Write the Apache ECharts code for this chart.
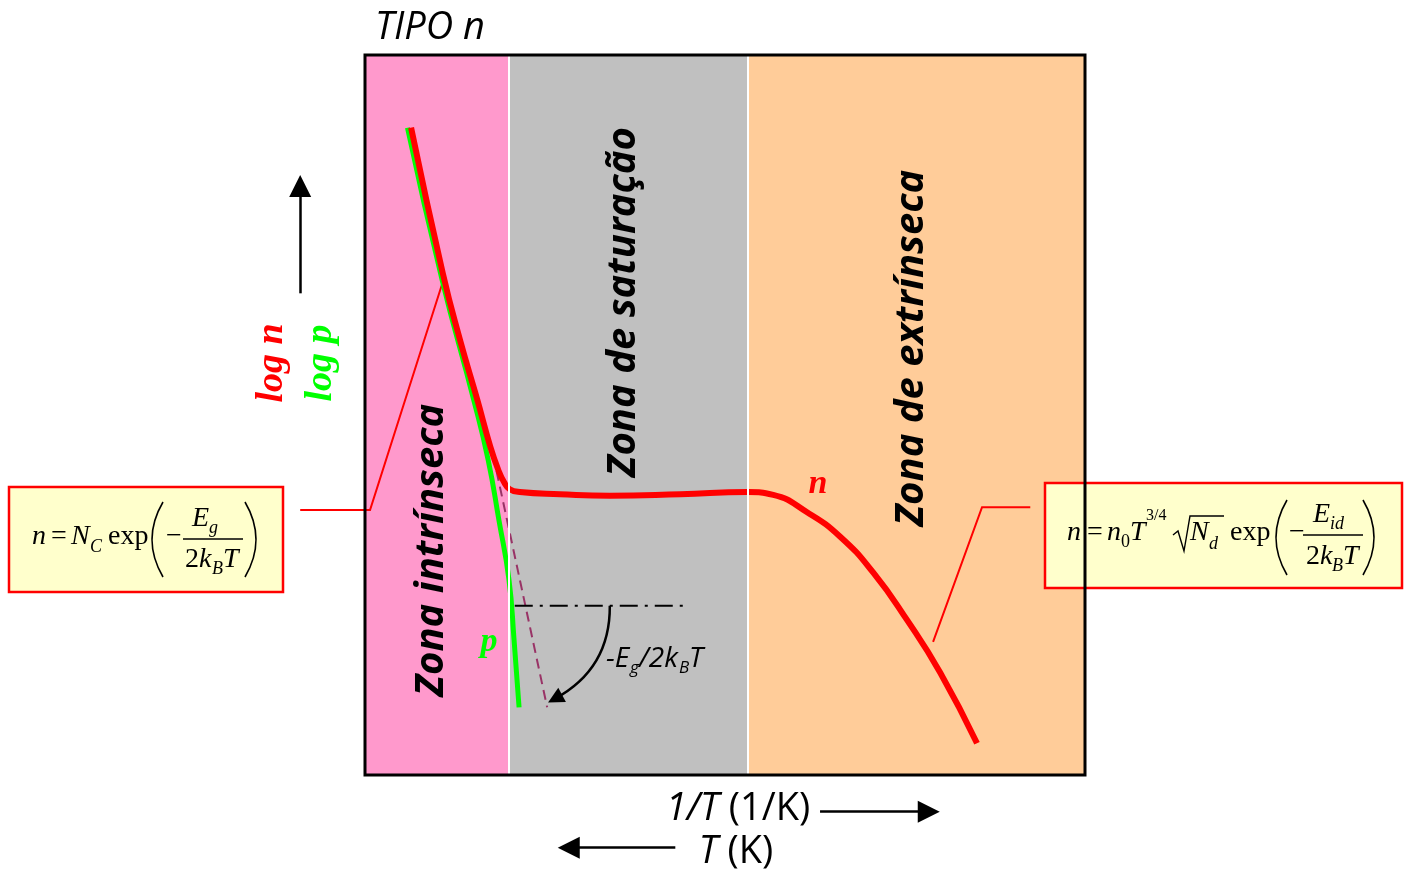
<!DOCTYPE html>
<html>
<head>
<meta charset="utf-8">
<script src="https://cdn.jsdelivr.net/npm/echarts@6/dist/echarts.min.js"></script>
<style>
  html, body { margin: 0; padding: 0; background: #fff; }
  #main { width: 1407px; height: 872px; }
</style>
</head>
<body>
<div id="main"></div>
<script>
// x = 1/T (arbitrary units), y = log n (arbitrary units)
var zoneEdges = [0, 1.99, 5.32, 10];
var zoneColors = ['#FF99CC', '#C0C0C0', '#FFCC99'];

var curveN = [
  [0.64, 8.99], [1.08, 6.97], [1.32, 6.04], [1.56, 5.21], [1.74, 4.56],
  [1.85, 4.24], [1.93, 4.07], [2.01, 3.97], [2.15, 3.93], [2.71, 3.90],
  [3.40, 3.88], [4.38, 3.90], [5.32, 3.93], [5.67, 3.89], [6.14, 3.65],
  [6.60, 3.31], [7.06, 2.81], [7.53, 2.15], [7.99, 1.42], [8.50, 0.44]
];
var curveP = [
  [0.59, 8.99], [1.07, 6.88], [1.51, 5.21], [1.71, 4.38], [1.86, 3.54],
  [2.00, 2.71], [2.07, 1.88], [2.14, 0.94]
];
var slopeLine = [[1.78, 4.44], [2.53, 0.94]];
var levelLine = [[2.08, 2.35], [4.44, 2.35]];
var slopeArc = [[3.40, 2.35], [2.64, 1.06]];

var leaderLeft = [[-0.90, 3.68], [0.07, 3.68], [1.11, 6.94]];
var leaderRight = [[9.24, 3.72], [8.57, 3.72], [7.89, 1.85]];

var arrowY = [[-0.90, 6.69], [-0.90, 8.18]];
var arrowInvT = [[6.32, -0.51], [7.83, -0.51]];
var arrowT = [[4.31, -1.01], [2.83, -1.01]];

var SERIF = 'Liberation Serif';
var SANS = 'Open Sans';

function t(x, base, s, fs, o) {
  o = o || {};
  return {
    type: 'text', z: 100,
    style: {
      text: s, x: x, y: base - 0.32 * fs,
      fontSize: fs, fontFamily: o.family || SERIF,
      fontStyle: o.italic ? 'italic' : 'normal',
      fontWeight: o.bold ? 'bold' : 'normal',
      fill: o.color || '#000',
      align: o.align || 'left', verticalAlign: 'middle'
    }
  };
}
function rot(x, y, s, fs, o) {
  return {
    type: 'text', z: 100, x: x, y: y, rotation: Math.PI / 2,
    style: {
      text: s, fontSize: fs, fontFamily: o.family || SANS,
      fontStyle: 'italic', fontWeight: 'bold', fill: o.color || '#000',
      align: 'center', verticalAlign: 'middle'
    }
  };
}
function paren(x, y1, y2, dx) {
  return {
    type: 'bezierCurve', z: 100,
    shape: { x1: x, y1: y1, x2: x, y2: y2, cpx1: x + dx, cpy1: (y1 + y2) / 2 },
    style: { stroke: '#000', lineWidth: 1.6, fill: 'none' }
  };
}
function seg(x1, y1, x2, y2) {
  return {
    type: 'line', z: 100, shape: { x1: x1, y1: y1, x2: x2, y2: y2 },
    style: { stroke: '#000', lineWidth: 1.3 }
  };
}
function box(x, y, w, h) {
  return {
    type: 'rect', z: 90, shape: { x: x, y: y, width: w, height: h },
    style: { fill: '#FFFFCC', stroke: '#FF0000', lineWidth: 2.5 }
  };
}

var it = { italic: true };
var F = 28, S = 18;
var graphics = [
  // frame
  { type: 'rect', z: 95, shape: { x: 365, y: 55, width: 720, height: 720 },
    style: { fill: 'none', stroke: '#000', lineWidth: 3 } },
  t(375, 40, 'TIPO n', 38, { family: SANS, italic: true }),
  rot(272, 363, 'log n', 38, { family: SERIF, color: '#FF0000' }),
  rot(321, 363, 'log p', 38, { family: SERIF, color: '#00FF00' }),
  rot(432, 550, 'Zona intrínseca', 40, {}),
  rot(624, 302, 'Zona de saturação', 40, {}),
  rot(912, 348, 'Zona de extrínseca', 40, {}),
  t(818, 495, 'n', 34, { italic: true, bold: true, color: '#FF0000', align: 'center' }),
  t(489, 653, 'p', 34, { italic: true, bold: true, color: '#00FF00', align: 'center' }),
  // -Eg/2kBT
  t(606, 668, '-E', 28, { family: SANS, italic: true }),
  t(630, 674, 'g', 17, { family: SANS, italic: true }),
  t(639, 668, '/2k', 28, { family: SANS, italic: true }),
  t(679, 674, 'B', 17, { family: SANS, italic: true }),
  t(689, 668, 'T', 28, { family: SANS, italic: true }),
  // axis captions
  { type: 'text', z: 100, style: {
      text: '{i|1/T} (1/K)', x: 738, y: 809, fontSize: 38, fontFamily: SANS,
      fill: '#000', align: 'center', verticalAlign: 'middle',
      rich: { i: { fontStyle: 'italic', fontSize: 38, fontFamily: SANS } } } },
  { type: 'text', z: 100, style: {
      text: '{i|T} (K)', x: 736, y: 852, fontSize: 38, fontFamily: SANS,
      fill: '#000', align: 'center', verticalAlign: 'middle',
      rich: { i: { fontStyle: 'italic', fontSize: 38, fontFamily: SANS } } } },

  // left formula box
  box(9, 487, 274, 105),
  t(32, 546, 'n', F, it),
  t(51, 546, '=', F),
  t(71, 546, 'N', F, it),
  t(90, 553, 'C', S, it),
  t(108, 546, 'exp', F),
  paren(163, 502, 577, -22),
  t(166, 546, '\u2212', F),
  seg(183, 539, 243, 539),
  t(192, 528, 'E', F, it),
  t(209, 534, 'g', S, it),
  t(185, 569, '2', F),
  t(199, 569, 'k', F, it),
  t(212, 575, 'B', S, it),
  t(223, 569, 'T', F, it),
  paren(245, 502, 577, 22),

  // right formula box
  box(1045, 483, 357, 105),
  t(1067, 542, 'n', F, it),
  t(1087, 542, '=', F),
  t(1107, 542, 'n', F, it),
  t(1121, 548, '0', S),
  t(1130, 542, 'T', F, it),
  t(1146, 521, '3/4', 16),
  { type: 'polyline', z: 100,
    shape: { points: [[1173, 535], [1178, 531], [1184, 551], [1190, 516], [1224, 516]] },
    style: { stroke: '#000', lineWidth: 1.4, fill: 'none' } },
  t(1190, 542, 'N', F, it),
  t(1209, 550, 'd', S, it),
  t(1230, 542, 'exp', F),
  paren(1287, 500, 575, -22),
  t(1289, 542, '\u2212', F),
  seg(1303, 535, 1363, 535),
  t(1313, 524, 'E', F, it),
  t(1330, 530, 'id', S, it),
  t(1306, 566, '2', F),
  t(1320, 566, 'k', F, it),
  t(1332, 572, 'B', S, it),
  t(1343, 566, 'T', F, it),
  paren(1363, 500, 575, 22)
];

var zoneAreas = zoneColors.map(function (c, i) {
  return [{ xAxis: zoneEdges[i], itemStyle: { color: c } }, { xAxis: zoneEdges[i + 1] }];
});
var zoneLines = zoneEdges.slice(1, -1).map(function (v) { return { xAxis: v }; });

var chart = echarts.init(document.getElementById('main'), null, { renderer: 'canvas' });
chart.setOption({
  animation: false,
  backgroundColor: '#fff',
  grid: { left: 365, top: 55, width: 720, height: 720 },
  xAxis: { type: 'value', min: 0, max: 10, show: false },
  yAxis: { type: 'value', min: 0, max: 10, show: false },
  graphic: graphics,
  series: [
    {
      type: 'line', data: [], silent: true,
      markArea: { silent: true, data: zoneAreas },
      markLine: {
        silent: true, symbol: 'none', label: { show: false },
        lineStyle: { color: '#fff', width: 2, type: 'solid' }, data: zoneLines
      }
    },
    {
      type: 'line', data: slopeLine, symbol: 'none', silent: true,
      lineStyle: { color: '#993366', width: 2, type: [10, 6] }
    },
    {
      type: 'line', data: levelLine, symbol: 'none', silent: true,
      lineStyle: { color: '#000', width: 2, type: [18, 7, 3, 7] }
    },
    {
      type: 'line', data: curveP, symbol: 'none', smooth: 0.5, silent: true,
      lineStyle: { color: '#00FF00', width: 5 }
    },
    {
      type: 'line', data: curveN, symbol: 'none', smooth: 0.5, silent: true,
      lineStyle: { color: '#FF0000', width: 6 }
    },
    {
      type: 'lines', coordinateSystem: 'cartesian2d', polyline: true, clip: false, silent: true,
      symbol: 'none', z: 3,
      lineStyle: { color: '#FF0000', width: 2, opacity: 1 },
      data: [{ coords: leaderLeft }, { coords: leaderRight }]
    },
    {
      type: 'lines', coordinateSystem: 'cartesian2d', clip: false, silent: true,
      symbol: ['none', 'triangle'], symbolSize: [20, 22], z: 5,
      lineStyle: { color: '#000', width: 2.5, opacity: 1 },
      data: [{ coords: arrowY }, { coords: arrowInvT }, { coords: arrowT }]
    },
    {
      type: 'lines', coordinateSystem: 'cartesian2d', clip: false, silent: true,
      symbol: ['none', 'triangle'], symbolSize: [14, 16], z: 5,
      lineStyle: { color: '#000', width: 2.5, opacity: 1, curveness: 0.3 },
      data: [{ coords: slopeArc }]
    }
  ]
});
</script>
</body>
</html>
